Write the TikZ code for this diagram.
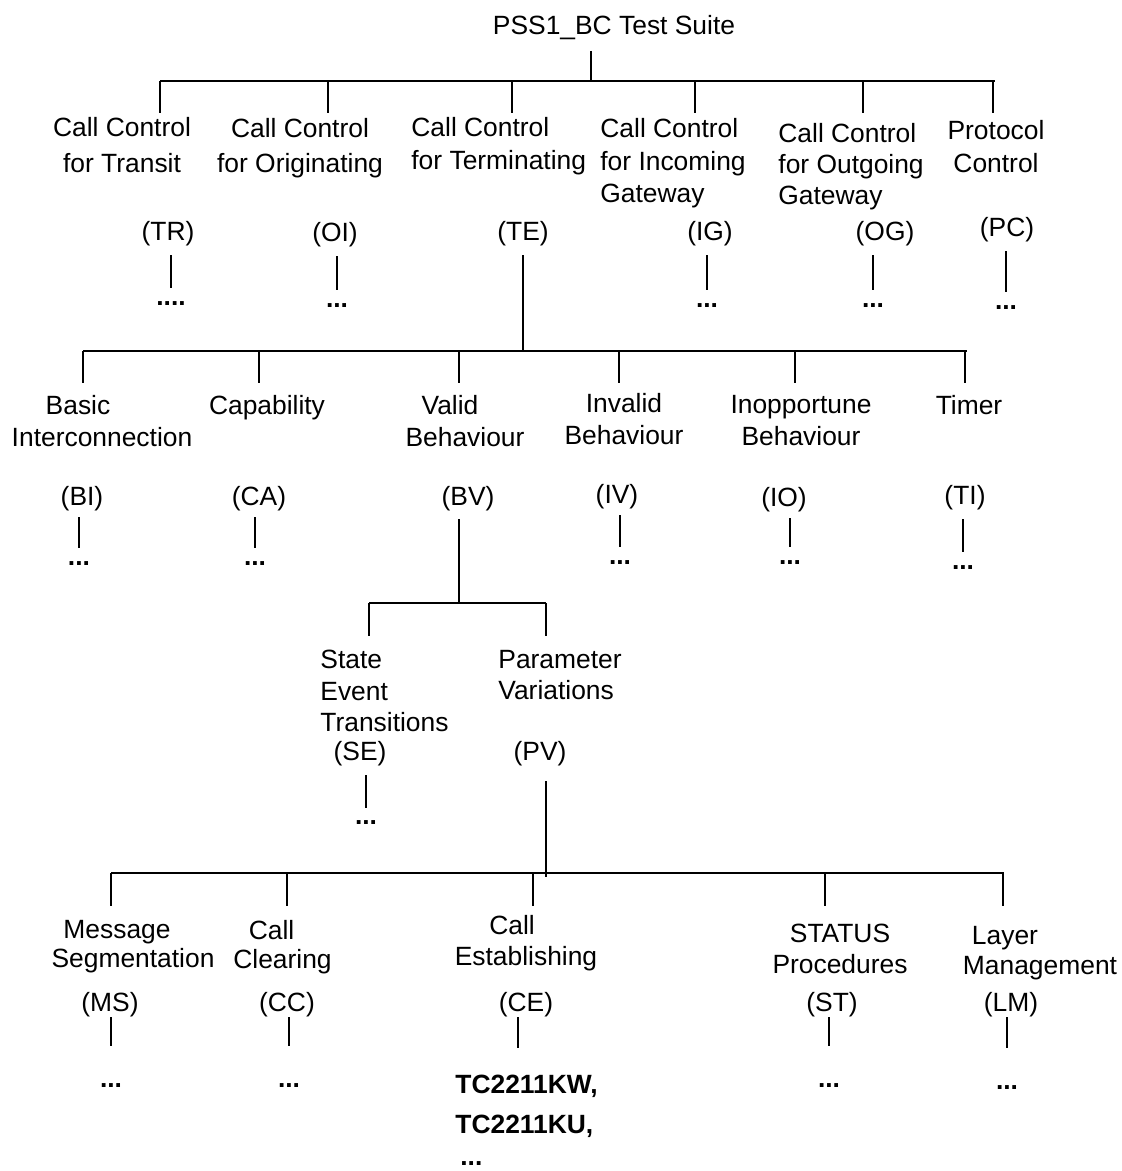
\documentclass[tikz,border=0pt]{standalone}
\usepackage{fontspec}
\setmainfont{Liberation Sans}

\begin{document}
\begin{tikzpicture}[x=0.5pt, y=-0.5pt,
  lbl/.style={inner sep=0pt, anchor=north, align=center, font=\fontsize{13.2}{16.5}\selectfont},
  lbll/.style={lbl, anchor=north west, align=left},
  ab/.style={inner sep=0pt, anchor=north, font=\fontsize{13.2}{16}\selectfont},
  dots/.style={inner sep=0pt, anchor=north, font=\fontsize{13.2}{16}\selectfont\bfseries},
  bus/.style={line width=1.1pt},
  stem/.style 2 args={line width=1pt, shorten <=#1, shorten >=#2}]
\useasboundingbox (0,0) rectangle (1121,1171);

\node[lbl] (root) at (614,15) {PSS1\_BC Test Suite};
\coordinate (root-tap) at (591,51);
\coordinate (busA-l) at (160,81);
\coordinate (busA-r) at (995,81);
\draw[bus] (busA-l) -- (busA-r);
\draw[bus] (root-tap) -- (root-tap |- busA-l);
\foreach \n/\x in {tr/160, oi/328, te/512, ig/695, og/863, pc/993}{
  \coordinate (\n-tap) at (\x,113);
  \draw[bus] (\n-tap |- busA-l) -- (\n-tap);
}

\node[lbl, font=\fontsize{13.2}{18}\selectfont] (tr) at (122,117) {Call Control\\for Transit};
\node[lbl, font=\fontsize{13.2}{17.5}\selectfont] (oi) at (300,118) {Call Control\\for Originating};
\node[lbll] (te) at (411,117) {Call Control\\for Terminating};
\node[lbll, font=\fontsize{13.2}{16.25}\selectfont] (ig) at (600,118) {Call Control\\for Incoming\\Gateway};
\node[lbll, font=\fontsize{13.2}{15.5}\selectfont] (og) at (778,123) {Call Control\\for Outgoing\\Gateway};
\node[lbl] (pc) at (996,120) {Protocol\\Control};

\node[ab] (trAb) at (168,221) {(TR)};
\node[ab] (oiAb) at (335,222) {(OI)};
\node[ab] (teAb) at (523,221) {(TE)};
\node[ab] (igAb) at (710,221) {(IG)};
\node[ab] (ogAb) at (885,221) {(OG)};
\node[ab] (pcAb) at (1007,217) {(PC)};

\node[dots] (trDots) at (171,301) {....};
\node[dots] (oiDots) at (337,303) {...};
\node[dots] (igDots) at (707,303) {...};
\node[dots] (ogDots) at (873,303) {...};
\node[dots] (pcDots) at (1006,305) {...};

\draw[stem={4.5pt}{6.5pt}] (trDots.north |- trAb.south) -- (trDots.north);
\draw[stem={4.5pt}{6.5pt}] (oiDots.north |- oiAb.south) -- (oiDots.north);
\draw[stem={4.5pt}{6.5pt}] (igDots.north |- igAb.south) -- (igDots.north);
\draw[stem={4.5pt}{6.5pt}] (ogDots.north |- ogAb.south) -- (ogDots.north);
\draw[stem={4.5pt}{6.5pt}] (pcDots.north |- pcAb.south) -- (pcDots.north);

\coordinate (busB-l) at (83,351);
\coordinate (busB-r) at (967,351);
\draw[bus] (busB-l) -- (busB-r);
\draw[stem={4.5pt}{0pt}] (teAb.south) -- (teAb.south |- busB-l);
\foreach \n/\x in {bi/83, ca/259, bv/459, iv/619, io/795, ti/965}{
  \coordinate (\n-tap) at (\x,383);
  \draw[bus] (\n-tap |- busB-l) -- (\n-tap);
}

\node[lbl, font=\fontsize{13.2}{16}\selectfont] (bi) at (102,395) {Basic\hspace*{24pt}\\Interconnection};
\node[lbl] (ca) at (267,395) {Capability};
\node[lbl, font=\fontsize{13.2}{16}\selectfont] (bv) at (465,395) {Valid\hspace*{15pt}\\Behaviour};
\node[lbl, font=\fontsize{13.2}{16}\selectfont] (iv) at (624,393) {Invalid\\Behaviour};
\node[lbl, font=\fontsize{13.2}{16}\selectfont] (io) at (801,395) {Inopportune\\Behaviour};
\node[lbl] (ti) at (969,395) {Timer};

\node[ab] (biAb) at (82,486) {(BI)};
\node[ab] (caAb) at (259,486) {(CA)};
\node[ab] (bvAb) at (468,486) {(BV)};
\node[ab] (ivAb) at (617,484) {(IV)};
\node[ab] (ioAb) at (784,487) {(IO)};
\node[ab] (tiAb) at (965,485) {(TI)};

\node[dots] (biDots) at (79,561) {...};
\node[dots] (caDots) at (255,561) {...};
\node[dots] (ivDots) at (620,560) {...};
\node[dots] (ioDots) at (790,560) {...};
\node[dots] (tiDots) at (963,565) {...};

\draw[stem={3pt}{6.5pt}] (biDots.north |- biAb.south) -- (biDots.north);
\draw[stem={3pt}{6.5pt}] (caDots.north |- caAb.south) -- (caDots.north);
\draw[stem={3pt}{6.5pt}] (ivDots.north |- ivAb.south) -- (ivDots.north);
\draw[stem={3pt}{6.5pt}] (ioDots.north |- ioAb.south) -- (ioDots.north);
\draw[stem={4.5pt}{6.5pt}] (tiDots.north |- tiAb.south) -- (tiDots.north);

\coordinate (busC-l) at (369,603);
\coordinate (busC-r) at (546,603);
\draw[bus] (busC-l) -- (busC-r);
\draw[stem={4pt}{0pt}] (bv-tap |- bvAb.south) -- (bv-tap |- busC-l);
\foreach \n/\x in {se/369, pv/546}{
  \coordinate (\n-tap) at (\x,636);
  \draw[bus] (\n-tap |- busC-l) -- (\n-tap);
}

\node[lbll, font=\fontsize{13.2}{15.75}\selectfont] (se) at (320,650) {State\\Event\\Transitions};
\node[lbll, font=\fontsize{13.2}{15.5}\selectfont] (pv) at (498,650) {Parameter\\Variations};
\node[ab] (seAb) at (360,741) {(SE)};
\node[ab] (pvAb) at (540,741) {(PV)};
\node[dots] (seDots) at (366,820) {...};
\draw[stem={4.5pt}{6pt}] (seDots.north |- seAb.south) -- (seDots.north);

\coordinate (busD-l) at (111,873);
\coordinate (busD-r) at (1004,873);
\draw[bus] (busD-l) -- (busD-r);
\draw[stem={7.5pt}{-2pt}] (pv-tap |- pvAb.south) -- (pv-tap |- busD-l);
\foreach \n/\x in {ms/111, cc/287, ce/533, st/825, lm/1003}{
  \coordinate (\n-tap) at (\x,906);
  \draw[bus] (\n-tap |- busD-l) -- (\n-tap);
}

\node[lbl, font=\fontsize{13.2}{14.5}\selectfont] (ms) at (133,920) {Message\hspace*{16pt}\\Segmentation};
\node[lbl, font=\fontsize{13.2}{14.5}\selectfont] (cc) at (282.5,920) {Call\hspace*{11pt}\\Clearing};
\node[lbl, font=\fontsize{13.2}{15.5}\selectfont] (ce) at (526,915) {Call\hspace*{14pt}\\Establishing};
\node[lbl, font=\fontsize{13.2}{15.5}\selectfont] (st) at (840,924) {STATUS\\Procedures};
\node[lbl, font=\fontsize{13.2}{15}\selectfont] (lm) at (1040,926) {Layer\hspace*{35pt}\\Management};

\node[ab] (msAb) at (110,992) {(MS)};
\node[ab] (ccAb) at (287,992) {(CC)};
\node[ab] (ceAb) at (526,992) {(CE)};
\node[ab] (stAb) at (832,992) {(ST)};
\node[ab] (lmAb) at (1011,992) {(LM)};

\node[dots] (msDots) at (111,1083) {...};
\node[dots] (ccDots) at (289,1083) {...};
\node[dots] (stDots) at (829,1083) {...};
\node[dots] (lmDots) at (1007,1085) {...};
\node[lbll, font=\fontsize{13.2}{20}\selectfont\bfseries] (ceLeaf) at (455,1075) {TC2211KW,\\TC2211KU,\\[-4pt]\hspace*{2.5pt}...};

\draw[stem={0pt}{18.5pt}] (msDots.north |- msAb.south) -- (msDots.north);
\draw[stem={0pt}{18.5pt}] (ccDots.north |- ccAb.south) -- (ccDots.north);
\draw[stem={0pt}{13.5pt}] ([xshift=-4pt]ceAb.south) -- ([xshift=-4pt]ceAb.south |- ceLeaf.north);
\draw[stem={0pt}{18.5pt}] (stDots.north |- stAb.south) -- (stDots.north);
\draw[stem={0pt}{18.5pt}] (lmDots.north |- lmAb.south) -- (lmDots.north);
\end{tikzpicture}
\end{document}
